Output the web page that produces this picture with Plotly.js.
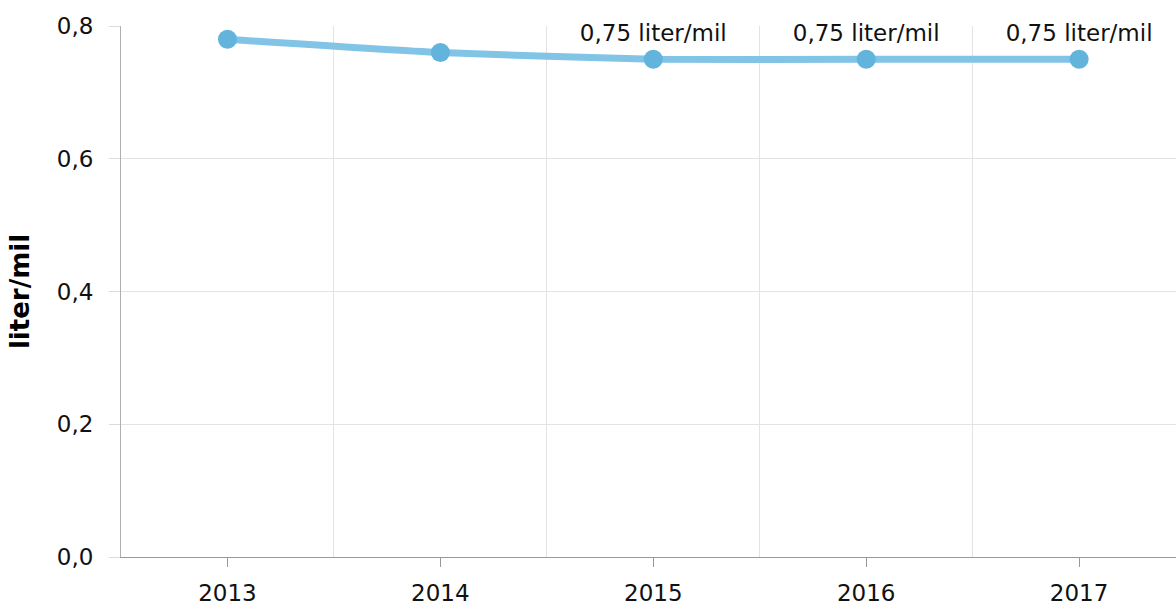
<!DOCTYPE html>
<html>
<head>
<meta charset="utf-8">
<script src="https://cdn.plot.ly/plotly-3.0.1.min.js"></script>
<style>html,body{margin:0;padding:0;background:#fff;}#chart{width:1176px;height:610px;}</style>
</head>
<body>
<div id="chart"></div>
<script>
const years = [2013, 2014, 2015, 2016, 2017];
const values = [0.78, 0.76, 0.75, 0.75, 0.75];
const pointLabels = ['', '', '0,75 liter/mil', '0,75 liter/mil', '0,75 liter/mil'];
const yTickVals = [0, 0.2, 0.4, 0.6, 0.8];
const yTitle = 'liter/mil';

const FONT = 'DejaVu Sans, Verdana, sans-serif';

const trace = {
  x: years,
  y: values,
  type: 'scatter',
  mode: 'lines+markers+text',
  text: pointLabels,
  textposition: 'top center',
  textfont: {family: FONT, size: 23, color: '#111'},
  line: {color: '#82c4e5', width: 7, shape: 'spline', smoothing: 0.6},
  marker: {color: '#63b4dc', size: 19},
  hoverinfo: 'x+y',
  cliponaxis: false
};

const layout = {
  width: 1176,
  height: 610,
  margin: {l: 121, r: 0, t: 26, b: 53},
  paper_bgcolor: '#fff',
  plot_bgcolor: '#fff',
  showlegend: false,
  separators: ', ',
  font: {family: FONT, size: 23, color: '#111'},
  xaxis: {
    type: 'linear',
    range: [2012.5, 2017.455],
    tickmode: 'array',
    tickvals: years,
    ticktext: years.map(String),
    ticks: 'outside',
    ticklen: 9,
    tickwidth: 1,
    tickcolor: '#999',
    showgrid: false,
    zeroline: false,
    showline: true,
    linecolor: '#999',
    linewidth: 1,
    ticklabelstandoff: 6,
    tickfont: {family: FONT, size: 23, color: '#111'},
    minor: {
      tickmode: 'linear',
      tick0: 2012.5,
      dtick: 1,
      showgrid: true,
      gridcolor: '#e3e3e3',
      gridwidth: 1,
      ticks: ''
    },
    fixedrange: true
  },
  yaxis: {
    range: [0, 0.8],
    tickmode: 'array',
    tickvals: yTickVals,
    tickformat: '.1f',
    ticks: 'outside',
    ticklen: 11,
    tickcolor: '#dcdcdc',
    showgrid: true,
    gridcolor: '#e3e3e3',
    gridwidth: 1,
    zeroline: false,
    showline: true,
    linecolor: '#b0b0b0',
    linewidth: 1,
    ticklabelstandoff: 11,
    tickfont: {family: FONT, size: 23, color: '#111'},
    title: {text: '<b>' + yTitle + '</b>', font: {family: FONT, size: 26, color: '#000'}, standoff: 19},
    fixedrange: true
  }
};

Plotly.newPlot('chart', [trace], layout, {displayModeBar: false, staticPlot: true});
</script>
</body>
</html>
